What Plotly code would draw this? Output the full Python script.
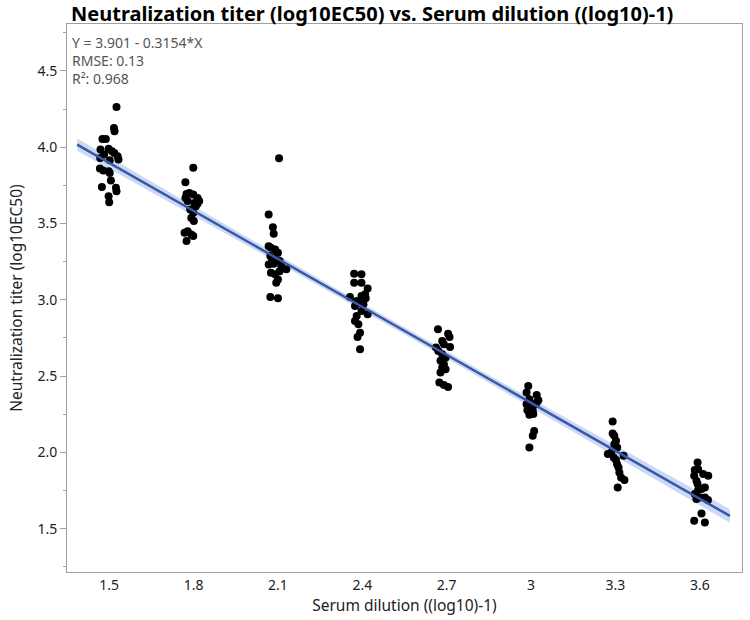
import numpy as np
import plotly.graph_objects as go

# ---- data (x includes the horizontal jitter) ----
x_g1 = [1.526, 1.517, 1.519, 1.476, 1.488, 1.469, 1.498, 1.510, 1.482, 1.518, 1.530, 1.533,
        1.502, 1.467, 1.479, 1.498, 1.502, 1.506, 1.474, 1.524, 1.526, 1.498, 1.500, 1.468]
y_g1 = [4.264, 4.126, 4.105, 4.054, 4.054, 3.985, 3.991, 3.974, 3.952, 3.963, 3.941, 3.920,
        3.915, 3.861, 3.848, 3.843, 3.832, 3.782, 3.740, 3.734, 3.712, 3.679, 3.640, 3.930]

x_g2 = [1.799, 1.771, 1.775, 1.785, 1.799, 1.814, 1.820, 1.771, 1.779, 1.803, 1.808, 1.814,
        1.788, 1.799, 1.792, 1.801, 1.768, 1.779, 1.792, 1.799, 1.775]
y_g2 = [3.865, 3.771, 3.694, 3.701, 3.690, 3.668, 3.647, 3.668, 3.647, 3.635, 3.614, 3.629,
        3.592, 3.570, 3.537, 3.516, 3.439, 3.450, 3.429, 3.418, 3.385]

x_g3 = [2.104, 2.067, 2.082, 2.085, 2.067, 2.075, 2.090, 2.100, 2.073, 2.079, 2.087, 2.106,
        2.067, 2.085, 2.112, 2.130, 2.075, 2.090, 2.106, 2.100, 2.094, 2.073, 2.100]
y_g3 = [3.928, 3.560, 3.476, 3.433, 3.352, 3.341, 3.330, 3.308, 3.287, 3.265, 3.276, 3.254,
        3.232, 3.236, 3.221, 3.200, 3.177, 3.167, 3.188, 3.134, 3.112, 3.018, 3.010]

x_g4 = [2.371, 2.397, 2.371, 2.397, 2.419, 2.356, 2.397, 2.410, 2.412, 2.380, 2.392, 2.404,
        2.374, 2.419, 2.397, 2.380, 2.374, 2.386, 2.392, 2.383, 2.392]
y_g4 = [3.171, 3.167, 3.112, 3.112, 3.075, 3.018, 3.025, 3.036, 3.010, 2.992, 2.981, 2.971,
        2.959, 2.905, 2.927, 2.894, 2.861, 2.840, 2.785, 2.757, 2.676]

x_g5 = [2.669, 2.705, 2.710, 2.684, 2.690, 2.662, 2.670, 2.712, 2.684, 2.696, 2.678, 2.690,
        2.684, 2.696, 2.678, 2.674, 2.690, 2.705]
y_g5 = [2.807, 2.778, 2.757, 2.730, 2.709, 2.687, 2.665, 2.691, 2.643, 2.621, 2.600, 2.578,
        2.556, 2.545, 2.523, 2.458, 2.442, 2.429]

x_g6 = [2.990, 2.984, 3.020, 2.994, 3.026, 2.984, 3.008, 3.020, 2.987, 3.006, 2.994, 3.008,
        3.011, 3.006, 2.994]
y_g6 = [2.436, 2.392, 2.377, 2.349, 2.342, 2.316, 2.305, 2.327, 2.277, 2.272, 2.246, 2.251,
        2.141, 2.109, 2.032]

x_g7 = [3.290, 3.290, 3.296, 3.302, 3.296, 3.306, 3.273, 3.285, 3.294, 3.302, 3.329, 3.306,
        3.311, 3.314, 3.320, 3.332, 3.308]
y_g7 = [2.202, 2.124, 2.109, 2.076, 2.054, 2.032, 1.989, 1.999, 1.967, 1.950, 1.978, 1.923,
        1.901, 1.868, 1.836, 1.819, 1.770]

x_g8 = [3.592, 3.582, 3.594, 3.580, 3.612, 3.630, 3.588, 3.592, 3.606, 3.618, 3.594, 3.582,
        3.600, 3.618, 3.588, 3.629, 3.606, 3.580, 3.618]
y_g8 = [1.934, 1.884, 1.890, 1.847, 1.858, 1.847, 1.814, 1.793, 1.760, 1.770, 1.753, 1.727,
        1.705, 1.705, 1.694, 1.688, 1.600, 1.552, 1.541]

fit_x_range = [1.386, 3.707]

x_tick_vals = [1.5, 1.8, 2.1, 2.4, 2.7, 3.0, 3.3, 3.6]
x_tick_text = ["1.5", "1.8", "2.1", "2.4", "2.7", "3", "3.3", "3.6"]
y_tick_vals = [1.5, 2.0, 2.5, 3.0, 3.5, 4.0, 4.5]
y_tick_text = ["1.5", "2.0", "2.5", "3.0", "3.5", "4.0", "4.5"]

fit_lines = ["Y = 3.901 - 0.3154*X", "RMSE: 0.13", "R²: 0.968"]

title_text = "Neutralization titer (log10EC50) vs. Serum dilution ((log10)-1)"
x_title = "Serum dilution ((log10)-1)"
y_title = "Neutralization titer (log10EC50)"

# ---- fit with confidence band ----
xs = np.array(x_g1 + x_g2 + x_g3 + x_g4 + x_g5 + x_g6 + x_g7 + x_g8)
ys = np.array(y_g1 + y_g2 + y_g3 + y_g4 + y_g5 + y_g6 + y_g7 + y_g8)
n = len(xs)
slope, intercept = np.polyfit(xs, ys, 1)
resid = ys - (intercept + slope * xs)
s = np.sqrt(np.sum(resid ** 2) / (n - 2))
xbar = xs.mean()
sxx = np.sum((xs - xbar) ** 2)
xl = np.linspace(fit_x_range[0], fit_x_range[1], 120)
yl = intercept + slope * xl
half = 1.97 * s * np.sqrt(1.0 / n + (xl - xbar) ** 2 / sxx)

FONT = "Noto Sans"
TXT = "#222222"

fig = go.Figure()
fig.add_trace(go.Scatter(
    x=np.concatenate([xl, xl[::-1]]),
    y=np.concatenate([yl + half, (yl - half)[::-1]]),
    fill="toself", fillcolor="rgba(140,170,230,0.45)",
    line=dict(width=0), hoverinfo="skip", showlegend=False))
fig.add_trace(go.Scatter(
    x=xs, y=ys, mode="markers",
    marker=dict(color="black", size=8, line=dict(width=0)),
    showlegend=False))
fig.add_trace(go.Scatter(
    x=xl, y=yl, mode="lines",
    line=dict(color="rgb(58,88,170)", width=2.5),
    showlegend=False))

fig.add_annotation(
    xref="paper", yref="paper", x=0.0, y=1.0, xshift=3, yshift=-7,
    xanchor="left", yanchor="top", align="left", showarrow=False,
    text="<br>".join(fit_lines),
    font=dict(family=FONT, size=14, color="#555555"))

fig.update_layout(
    width=750, height=620,
    margin=dict(l=67, r=8, t=24, b=48),
    paper_bgcolor="white", plot_bgcolor="white",
    title=dict(text="<b>" + title_text + "</b>", xref="container", yref="container",
               x=71 / 750, xanchor="left", y=1 - 14 / 620, yanchor="middle",
               font=dict(family=FONT, size=20, color="black")),
    font=dict(family=FONT, size=14, color=TXT),
)
fig.update_xaxes(
    range=[1.35, 3.75], tickvals=x_tick_vals, ticktext=x_tick_text, automargin=False,
    showgrid=False, zeroline=False, showline=True, linecolor="#a0a0a0", linewidth=1,
    mirror=True, ticks="", tickfont=dict(family=FONT, size=14, color=TXT),
    title=dict(text=x_title, standoff=4, font=dict(family=FONT, size=15.5, color=TXT)))
fig.update_yaxes(
    range=[1.216, 4.808], tickvals=y_tick_vals, ticktext=y_tick_text, automargin=False,
    showgrid=False, zeroline=False, showline=True, linecolor="#a0a0a0", linewidth=1,
    mirror=True, ticks="outside", ticklen=6, tickcolor="#a0a0a0",
    minor=dict(tickvals=[1.25, 1.75, 2.25, 2.75, 3.25, 3.75, 4.25, 4.75],
               ticks="outside", ticklen=3, tickcolor="#a0a0a0"),
    tickfont=dict(family=FONT, size=14, color=TXT),
    title=dict(text=y_title, standoff=10, font=dict(family=FONT, size=15.5, color=TXT)))

fig.write_html(
    "out.html",
    config={"displayModeBar": False},
    post_script="document.body.style.margin='0';document.body.style.overflow='hidden';")
